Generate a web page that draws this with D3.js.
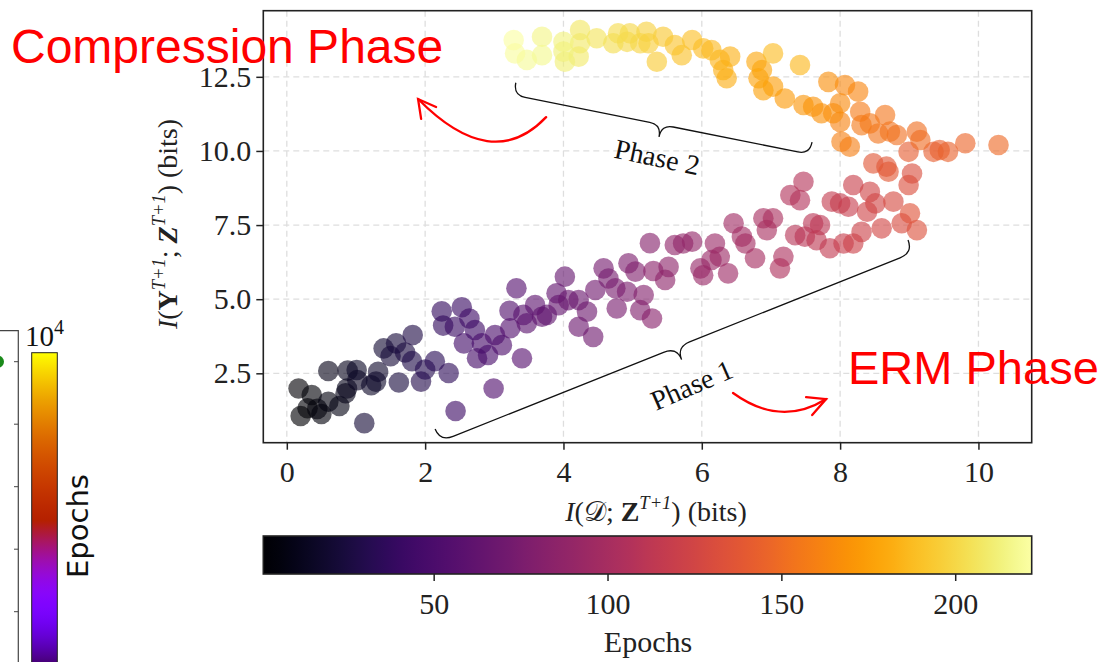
<!DOCTYPE html>
<html>
<head>
<meta charset="utf-8">
<script src="https://cdn.jsdelivr.net/npm/d3@7"></script>
<style>
  html, body { margin: 0; padding: 0; background: #fff; }
  svg { display: block; }
</style>
</head>
<body>
<div id="chart"></div>
<script>
// Phase 1 (ERM): [I(D;Z), I(Y;Z), epoch]
const phase1Points = [
  [0.20,1.06,1],[0.17,1.99,2],[0.30,1.32,3],[0.36,1.77,4],[0.44,1.30,5],[0.50,1.13,6],
  [0.60,1.54,7],[0.76,1.40,9],[0.85,1.83,10],[0.60,2.58,11],[0.87,1.99,12],[0.88,2.59,13],
  [1.02,2.27,15],[1.01,2.61,16],[1.22,2.10,17],[1.29,2.22,18],[1.32,2.55,19],[1.12,0.82,22],
  [1.40,3.34,21],[1.50,3.08,23],[1.58,3.51,24],[1.62,2.19,25],[1.71,3.20,26],[1.82,3.79,27],
  [1.81,2.91,28],[1.94,2.22,30],[2.00,2.63,31],[2.14,2.91,33],[2.34,2.51,35],[2.26,4.11,37],
  [2.24,4.59,38],[2.43,4.07,40],[2.53,4.73,41],[2.44,1.23,42],[2.64,4.35,43],[2.72,3.96,44],
  [2.56,3.51,45],[2.75,3.01,46],[2.82,3.51,47],[2.91,3.12,48],[3.01,3.79,50],[3.11,3.45,51],
  [2.99,1.99,52],[3.22,4.61,53],[3.23,4.02,54],[3.32,5.37,55],[3.40,3.01,56],[3.42,4.47,57],
  [3.47,4.19,58],[3.59,4.80,59],[3.69,4.41,60],[3.76,4.47,61],[3.90,5.20,62],[3.93,4.80,63],
  [4.02,5.76,64],[4.07,4.97,65],[4.22,4.97,66],[4.22,4.07,67],[4.34,4.58,68],[4.43,3.73,69],
  [4.46,5.31,70],[4.58,6.04,72],[4.65,5.70,73],[4.75,5.37,74],[4.77,4.69,75],[4.92,5.25,76],
  [4.94,6.21,77],[5.04,5.93,78],[5.11,4.63,79],[5.16,5.14,80],[5.25,6.89,82],[5.28,4.35,83],
  [5.30,5.95,84],[5.47,5.65,85],[5.52,6.09,86],[5.61,6.83,87],[5.73,6.88,88],[5.86,6.94,89],
  [5.98,6.04,90],[6.02,5.81,91],[6.14,6.32,92],[6.19,6.88,93],[6.26,6.43,94],[6.38,5.87,95],
  [6.46,7.56,96],[6.58,7.11,97],[6.63,6.88,98],[6.77,6.38,99],[6.89,7.73,100],[6.94,7.33,101],
  [7.03,7.73,102],[7.18,6.43,103],[7.13,6.04,104],[7.28,8.51,106],[7.42,8.34,107],[7.47,8.96,108],
  [7.35,7.16,109],[7.49,7.11,110],[7.61,7.56,111],[7.71,7.50,112],[7.66,6.99,113],[7.85,6.72,115],
  [7.88,8.29,116],[8.00,8.23,117],[8.12,8.12,118],[8.05,6.88,119],[8.19,8.85,120],[8.19,6.88,121],
  [8.31,7.27,122],[8.39,7.95,123],[8.43,8.62,124],[8.51,8.23,125],[8.60,7.39,126],[8.77,8.29,128],
  [8.89,7.56,129],[9.04,9.24,131],[8.99,8.85,132],[9.11,7.33,133],[9.01,7.90,134],[8.48,9.58,136],
  [8.67,9.47,137],[8.70,9.30,138],[8.99,9.97,140]
];

// Phase 2 (compression)
const phase2Points = [
  [9.35,9.97,142],[9.44,10.03,143],[9.56,9.97,144],[9.81,10.26,146],[10.29,10.20,148],
  [9.16,10.37,150],[9.11,10.65,151],[8.82,10.54,152],[8.72,10.65,153],[8.55,10.59,154],
  [8.65,11.21,155],[8.43,10.93,156],[8.31,10.87,157],[8.29,11.32,158],[8.14,10.14,159],
  [8.02,10.31,160],[8.00,10.98,161],[8.26,12.00,163],[8.07,12.22,164],[8.00,11.61,165],
  [7.90,11.27,166],[7.83,12.33,167],[7.73,11.27,168],[7.61,11.49,169],[7.47,11.55,170],
  [7.20,11.77,172],[7.42,12.90,185],[7.03,12.17,174],[6.89,12.05,175],[6.82,12.45,176],
  [6.87,12.73,177],[6.79,13.01,178],[7.03,13.29,188],[6.36,12.45,181],[6.31,12.73,182],
  [6.41,13.18,183],[6.26,13.07,184],[6.14,13.40,186],[6.02,13.46,187],[5.86,13.74,189],
  [5.71,13.23,190],[5.61,13.57,191],[5.44,13.85,193],[5.35,13.01,194],[5.23,13.63,196],
  [5.20,14.02,197],[5.11,13.63,198],[4.96,13.97,200],[4.92,13.68,201],[4.79,13.97,202],
  [4.72,13.63,203],[4.48,13.80,205],[4.24,14.08,207],[4.24,13.63,208],[4.22,13.18,209],
  [4.02,13.01,211],[4.00,13.35,212],[4.00,13.68,213],[3.69,13.85,215],[3.69,13.23,216],
  [3.47,13.07,218],[3.30,13.29,220],[3.28,13.74,221]
];

const xTicks = [0, 2, 4, 6, 8, 10];
const yTicks = [2.5, 5.0, 7.5, 10.0, 12.5];
const epochTicks = [50, 100, 150, 200];
const epochRange = [1, 222];

// annotation anchors, in data units
const phase1Brace = [[2.144, 0.62], [8.982, 6.995]];
const phase2Brace = [[3.311, 12.30], [7.594, 10.30]];
const phase1Label = [5.91, 1.81];
const phase2Label = [5.325, 9.48];
const ermArrow = { from: [6.452, 1.836], ctrl: [7.139, 0.671], to: [7.797, 1.632], wings: [[7.508, 1.70], [7.596, 1.093]] };
const compArrow = { from: [3.749, 11.14], ctrl: [2.968, 9.22], to: [1.898, 11.75], wings: [[2.158, 11.48], [1.942, 11.08]] };

const W = 1106, H = 662;
const SERIF = '"Liberation Serif", "Times New Roman", serif';
const SANS = '"Liberation Sans", Arial, sans-serif';
const plot = { left: 263.3, right: 1031.7, top: 10.7, bottom: 442.7 };

const svg = d3.select('#chart').append('svg')
  .attr('width', W).attr('height', H)
  .attr('viewBox', `0 0 ${W} ${H}`);

const x = d3.scaleLinear().domain([-0.34, 10.77]).range([plot.left, plot.right]);
const y = d3.scaleLinear().domain([0.16, 14.73]).range([plot.bottom, plot.top]);
const cbar = d3.scaleLinear().domain(epochRange).range([plot.left, plot.right]);
const color = e => d3.interpolateInferno((e - epochRange[0]) / (epochRange[1] - epochRange[0]));

// ---- left neighbour figure (cropped) ----
const gnuplot = t => {
  const r = Math.sqrt(t), g = t * t * t, b = Math.max(0, Math.sin(2 * Math.PI * t));
  return d3.rgb(r * 255, g * 255, b * 255).toString();
};
const defs = svg.append('defs');
const vgrad = defs.append('linearGradient').attr('id', 'gnuplotGrad')
  .attr('x1', 0).attr('y1', 1).attr('x2', 0).attr('y2', 0);
d3.range(0, 1.0001, 0.02).forEach(t => {
  vgrad.append('stop').attr('offset', t).attr('stop-color', gnuplot(t));
});
const left = svg.append('g');
left.append('path').attr('d', 'M0,330.7 H18.3 V662')
  .attr('fill', 'none').attr('stroke', '#444').attr('stroke-width', 1.2);
[361.7, 424.2, 486.7, 549.2, 611.7].forEach(ty => {
  left.append('line').attr('x1', 14).attr('x2', 18.3).attr('y1', ty).attr('y2', ty)
    .attr('stroke', '#444').attr('stroke-width', 1);
});
left.append('circle').attr('cx', -2).attr('cy', 361.7).attr('r', 6).attr('fill', '#1a8a1a');
left.append('rect').attr('x', 31.7).attr('y', 352.7).attr('width', 25.6).attr('height', 336)
  .attr('fill', 'url(#gnuplotGrad)').attr('stroke', '#222').attr('stroke-width', 1);
const tenTo4 = left.append('text').attr('x', 25).attr('y', 346)
  .attr('font-family', SERIF).attr('font-size', 29).attr('fill', '#111');
tenTo4.append('tspan').text('10');
tenTo4.append('tspan').attr('font-size', 20).attr('dy', -12).text('4');
left.append('text')
  .attr('transform', 'translate(88,526) rotate(-90)')
  .attr('text-anchor', 'middle')
  .attr('font-family', '"DejaVu Sans", sans-serif').attr('font-size', 29).attr('fill', '#111')
  .text('Epochs');

// ---- main scatter ----
const grid = svg.append('g').attr('stroke', '#dedede').attr('stroke-width', 1.3)
  .attr('stroke-dasharray', '6,4');
xTicks.forEach(t => grid.append('line').attr('x1', x(t)).attr('x2', x(t))
  .attr('y1', plot.top).attr('y2', plot.bottom));
yTicks.forEach(t => grid.append('line').attr('y1', y(t)).attr('y2', y(t))
  .attr('x1', plot.left).attr('x2', plot.right));

const dots = svg.append('g');
[phase1Points, phase2Points].forEach(pts => {
  dots.selectAll(null).data(pts).enter().append('circle')
    .attr('cx', d => x(d[0]))
    .attr('cy', d => y(d[1]))
    .attr('r', 10.3)
    .attr('fill', d => color(d[2]))
    .attr('fill-opacity', 0.62);
});

function styleAxis(g) {
  g.select('.domain').remove();
  g.selectAll('.tick line').attr('stroke', '#222').attr('stroke-width', 1.5);
  g.selectAll('.tick text').attr('font-family', SERIF).attr('font-size', 30).attr('fill', '#222');
}

svg.append('g').attr('transform', `translate(0,${plot.bottom})`)
  .call(d3.axisBottom(x).tickValues(xTicks).tickSize(7).tickPadding(11).tickFormat(d3.format('d')))
  .call(styleAxis);
svg.append('g').attr('transform', `translate(${plot.left},0)`)
  .call(d3.axisLeft(y).tickValues(yTicks).tickSize(7).tickPadding(5).tickFormat(d3.format('.1f')))
  .call(styleAxis);

svg.append('rect')
  .attr('x', plot.left).attr('y', plot.top)
  .attr('width', plot.right - plot.left).attr('height', plot.bottom - plot.top)
  .attr('fill', 'none').attr('stroke', '#222').attr('stroke-width', 1.6);

// ---- braces and phase labels ----
function bracePath(a, b, h, q) {
  const p0 = [x(a[0]), y(a[1])], p1 = [x(b[0]), y(b[1])];
  const dx = p1[0] - p0[0], dy = p1[1] - p0[1];
  const L = Math.hypot(dx, dy), ux = dx / L, uy = dy / L, nx = -uy, ny = ux;
  const P = (s, t) => `${p0[0] + ux * s + nx * t},${p0[1] + uy * s + ny * t}`;
  const m = L / 2;
  return `M${P(0, 0)} Q${P(0, h)} ${P(q, h)} L${P(m - q, h)} Q${P(m, h)} ${P(m, 2 * h)}` +
    ` Q${P(m, h)} ${P(m + q, h)} L${P(L - q, h)} Q${P(L, h)} ${P(L, 0)}`;
}
const braces = svg.append('g').attr('fill', 'none').attr('stroke', '#111').attr('stroke-width', 1.3);
braces.append('path').attr('d', bracePath(phase1Brace[0], phase1Brace[1], 13.5, 14));
braces.append('path').attr('d', bracePath(phase2Brace[0], phase2Brace[1], 12.5, 12));

svg.append('text')
  .attr('transform', `translate(${x(phase1Label[0])},${y(phase1Label[1])}) rotate(-23.5)`)
  .attr('text-anchor', 'middle').attr('font-family', SERIF).attr('font-size', 28).attr('fill', '#111')
  .text('Phase 1');
svg.append('text')
  .attr('transform', `translate(${x(phase2Label[0])},${y(phase2Label[1])}) rotate(12)`)
  .attr('text-anchor', 'middle').attr('font-family', SERIF).attr('font-size', 28).attr('fill', '#111')
  .text('Phase 2');

// ---- axis labels ----
function richText(sel, parts, size) {
  let raised = false;
  parts.forEach(p => {
    const s = sel.append('tspan').text(p.t);
    if (p.i) s.attr('font-style', 'italic');
    if (p.b) s.attr('font-weight', 'bold');
    if (p.f) s.attr('font-family', p.f);
    if (p.sup) { s.attr('font-size', size * 0.66).attr('dy', -size * 0.42); raised = true; }
    else if (raised) { s.attr('dy', size * 0.42); raised = false; }
  });
}
const xl = svg.append('text').attr('x', 656).attr('y', 521).attr('text-anchor', 'middle')
  .attr('font-family', SERIF).attr('font-size', 28).attr('fill', '#222');
richText(xl, [
  { t: 'I', i: true }, { t: '(' }, { t: '\u{1D49F}', f: '"DejaVu Sans", "Noto Sans", serif' },
  { t: '; ' }, { t: 'Z', b: true }, { t: 'T+1', sup: true, i: true }, { t: ') (bits)' }
], 28);

const yl = svg.append('text').attr('transform', 'translate(177,224) rotate(-90)')
  .attr('text-anchor', 'middle').attr('font-family', SERIF).attr('font-size', 28).attr('fill', '#222');
richText(yl, [
  { t: 'I', i: true }, { t: '(' }, { t: 'Y', b: true }, { t: 'T+1', sup: true, i: true },
  { t: '; ' }, { t: 'Z', b: true, i: true }, { t: 'T+1', sup: true, i: true }, { t: ') (bits)' }
], 28);

// ---- horizontal colorbar ----
const hgrad = defs.append('linearGradient').attr('id', 'infernoGrad')
  .attr('x1', 0).attr('y1', 0).attr('x2', 1).attr('y2', 0);
d3.range(0, 1.0001, 0.02).forEach(t => {
  hgrad.append('stop').attr('offset', t).attr('stop-color', d3.interpolateInferno(t));
});
const cbTop = 536, cbBottom = 574;
svg.append('rect').attr('x', plot.left).attr('y', cbTop)
  .attr('width', plot.right - plot.left).attr('height', cbBottom - cbTop)
  .attr('fill', 'url(#infernoGrad)').attr('stroke', '#222').attr('stroke-width', 1.6);
svg.append('g').attr('transform', `translate(0,${cbBottom})`)
  .call(d3.axisBottom(cbar).tickValues(epochTicks).tickSize(7).tickPadding(12))
  .call(styleAxis);
svg.append('text').attr('x', 648).attr('y', 652).attr('text-anchor', 'middle')
  .attr('font-family', SERIF).attr('font-size', 30).attr('fill', '#222').text('Epochs');

// ---- red overlays ----
function arrow(a) {
  const g = svg.append('g').attr('fill', 'none').attr('stroke', '#ff0000')
    .attr('stroke-width', 2.3).attr('stroke-linecap', 'round');
  const pt = p => `${x(p[0])},${y(p[1])}`;
  g.append('path').attr('d', `M${pt(a.from)} Q${pt(a.ctrl)} ${pt(a.to)}`);
  g.append('path').attr('d', `M${pt(a.wings[0])} L${pt(a.to)} L${pt(a.wings[1])}`);
}
arrow(compArrow);
arrow(ermArrow);

svg.append('text').attr('x', 11).attr('y', 63)
  .attr('font-family', SANS).attr('font-size', 48).attr('fill', '#ff0000')
  .text('Compression Phase');
svg.append('text').attr('x', 848).attr('y', 384)
  .attr('font-family', SANS).attr('font-size', 47).attr('fill', '#ff0000')
  .text('ERM Phase');
</script>
</body>
</html>
